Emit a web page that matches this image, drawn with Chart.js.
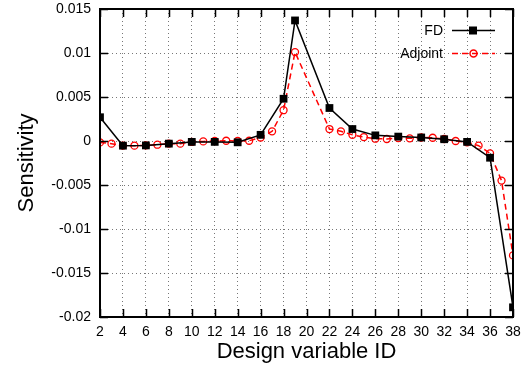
<!DOCTYPE html>
<html>
<head>
<meta charset="utf-8">
<script src="https://cdn.jsdelivr.net/npm/chart.js@4"></script>
<style>
  html, body { margin: 0; padding: 0; background: #fff; }
  #wrap { width: 525px; height: 368px; }
</style>
</head>
<body>
<div id="wrap"><canvas id="chart"></canvas></div>
<script>
// data
const fdIds = [2, 4, 6, 8, 10, 12, 14, 16, 18, 19, 22, 24, 26, 28, 30, 32, 34, 36, 38];
const fdValues = [0.0027, -0.00053, -0.0005, -0.0003, -0.0001, -0.0001, -0.00015, 0.0007, 0.0048, 0.0137,
    0.00375, 0.00136, 0.00064, 0.0005, 0.0004, 0.0002, -0.0001, -0.0019, -0.0189];

const adjIds = [2, 3, 4, 5, 6, 7, 8, 9, 10, 11, 12, 13, 14, 15, 16, 17, 18, 19,
    22, 23, 24, 25, 26, 27, 28, 29, 30, 31, 32, 33, 34, 35, 36, 37, 38];
const adjValues = [-0.00016, -0.0003, -0.00053, -0.00053, -0.0005, -0.00042, -0.0003, -0.0003, -0.00011, -0.00005,
    0, 0.00003, 0, 0.00003, 0.0004, 0.0011, 0.0035, 0.0101,
    0.00136, 0.0011, 0.0007, 0.00045, 0.00026, 0.00023, 0.00034, 0.0003, 0.0004, 0.00037, 0.00023, 0, -0.00016,
    -0.00053, -0.0014, -0.0045, -0.013];

const xTicks = [2, 4, 6, 8, 10, 12, 14, 16, 18, 20, 22, 24, 26, 28, 30, 32, 34, 36, 38];
const yTicks = [-0.02, -0.015, -0.01, -0.005, 0, 0.005, 0.01, 0.015];
const yTickLabels = ['-0.02', '-0.015', '-0.01', '-0.005', '0', '0.005', '0.01', '0.015'];

const seriesNames = ['FD', 'Adjoint'];

const FONT = '"Liberation Sans", Arial, Helvetica, sans-serif';

function toPoints(xs, ys) {
    return xs.map((x, i) => ({x: x, y: ys[i]}));
}

// frame, inward ticks and key, gnuplot style
const decorPlugin = {
    id: 'decor',
    afterDraw(chart) {
	const ctx = chart.ctx;
	const a = chart.chartArea;
	const xs = chart.scales.x, ys = chart.scales.y;
	const len = 8;
	ctx.save();
	ctx.setLineDash([]);
	ctx.strokeStyle = '#000';
	ctx.lineWidth = 2;
	ctx.strokeRect(a.left, a.top, a.right - a.left, a.bottom - a.top);
	ctx.lineWidth = 1.5;
	xTicks.forEach(v => {
	    const px = Math.round(xs.getPixelForValue(v)) + 0.5;
	    ctx.beginPath();
	    ctx.moveTo(px, a.bottom);
	    ctx.lineTo(px, a.bottom - len);
	    ctx.moveTo(px, a.top);
	    ctx.lineTo(px, a.top + len);
	    ctx.stroke();
	});
	yTicks.forEach(v => {
	    const py = Math.round(ys.getPixelForValue(v)) + 0.5;
	    ctx.beginPath();
	    ctx.moveTo(a.left, py);
	    ctx.lineTo(a.left + len, py);
	    ctx.moveTo(a.right, py);
	    ctx.lineTo(a.right - len, py);
	    ctx.stroke();
	});

	ctx.font = '14px ' + FONT;
	ctx.textAlign = 'right';
	ctx.textBaseline = 'middle';
	const rows = [30.5, 53.5];
	chart.data.datasets.forEach((ds, i) => {
	    const y = rows[i];
	    ctx.fillStyle = '#000';
	    ctx.fillText(seriesNames[i], 443, y + 1);
	    ctx.strokeStyle = ds.borderColor;
	    ctx.lineWidth = 1.5;
	    ctx.setLineDash(ds.borderDash || []);
	    ctx.beginPath();
	    ctx.moveTo(452, y);
	    ctx.lineTo(495, y);
	    ctx.stroke();
	    ctx.setLineDash([]);
	    if (ds.pointStyle === 'rect') {
		ctx.fillStyle = '#000';
		ctx.fillRect(469, y - 4, 8, 8);
	    } else {
		ctx.beginPath();
		ctx.arc(473.5, y, 3.5, 0, Math.PI * 2);
		ctx.stroke();
	    }
	});
	ctx.restore();
    }
};

const config = {
    type: 'line',
    data: {
	datasets: [{
	    label: seriesNames[0],
	    data: toPoints(fdIds, fdValues),
	    borderColor: '#000',
	    backgroundColor: '#000',
	    borderWidth: 1.5,
	    pointStyle: 'rect',
	    pointRadius: 5.5,
	    pointBorderWidth: 0,
	    tension: 0
	}, {
	    label: seriesNames[1],
	    data: toPoints(adjIds, adjValues),
	    borderColor: '#ff0000',
	    backgroundColor: 'rgba(0,0,0,0)',
	    borderWidth: 1.5,
	    borderDash: [6, 4],
	    pointStyle: 'circle',
	    pointRadius: 3.5,
	    pointBorderWidth: 1.3,
	    tension: 0
	}]
    },
    options: {
	responsive: true,
	maintainAspectRatio: false,
	animation: false,
	layout: { padding: { top: 9, right: 12, left: 0, bottom: 0 } },
	plugins: {
	    legend: { display: false },
	    tooltip: { enabled: false }
	},
	scales: {
	    x: {
		type: 'linear',
		min: 2,
		max: 38,
		afterBuildTicks: s => { s.ticks = xTicks.map(v => ({value: v})); },
		afterFit: s => { s.height = 51; s.paddingLeft = 0; s.paddingRight = 0; },
		ticks: {
		    color: '#000',
		    padding: 7,
		    maxRotation: 0,
		    autoSkip: false,
		    font: { family: FONT, size: 14 }
		},
		grid: { color: '#777', lineWidth: 1, drawTicks: false },
		border: { display: false, dash: [1, 3] },
		title: {
		    display: true,
		    text: 'Design variable ID',
		    color: '#000',
		    padding: { top: 0, bottom: 3 },
		    font: { family: FONT, size: 22 }
		}
	    },
	    y: {
		min: -0.02,
		max: 0.015,
		afterBuildTicks: s => { s.ticks = yTicks.map(v => ({value: v})); },
		afterFit: s => { s.width = 100; s.paddingTop = 0; s.paddingBottom = 0; },
		ticks: {
		    color: '#000',
		    padding: 9,
		    font: { family: FONT, size: 14 },
		    callback: v => yTickLabels[yTicks.findIndex(t => Math.abs(t - v) < 1e-9)]
		},
		grid: { color: '#777', lineWidth: 1, drawTicks: false },
		border: { display: false, dash: [1, 3] },
		title: {
		    display: true,
		    text: 'Sensitivity',
		    color: '#000',
		    padding: { top: 14, bottom: 0 },
		    font: { family: FONT, size: 22 }
		}
	    }
	}
    },
    plugins: [decorPlugin]
};

const chartCtx = document.getElementById('chart');
if (chartCtx)
    new Chart(chartCtx.getContext('2d'), config);
</script>
</body>
</html>
